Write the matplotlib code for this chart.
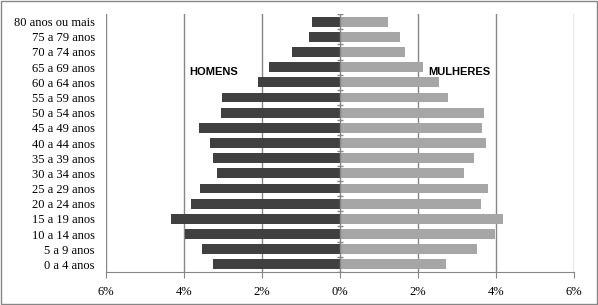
import numpy as np
import matplotlib
matplotlib.use("Agg")
import matplotlib.pyplot as plt
from matplotlib.patches import Rectangle

# age groups, top to bottom as in the picture
age_groups = [
    "80 anos ou mais", "75 a 79 anos", "70 a 74 anos", "65 a 69 anos",
    "60 a 64 anos", "55 a 59 anos", "50 a 54 anos", "45 a 49 anos",
    "40 a 44 anos", "35 a 39 anos", "30 a 34 anos", "25 a 29 anos",
    "20 a 24 anos", "15 a 19 anos", "10 a 14 anos", "5 a 9 anos",
    "0 a 4 anos",
]
# share of population (%), same order
homens = [0.72, 0.80, 1.23, 1.82, 2.10, 3.03, 3.05, 3.62, 3.33, 3.26,
          3.15, 3.59, 3.82, 4.33, 3.97, 3.54, 3.26]
mulheres = [1.23, 1.54, 1.66, 2.13, 2.54, 2.77, 3.69, 3.64, 3.74, 3.44,
            3.18, 3.79, 3.62, 4.18, 3.97, 3.51, 2.72]
xticks = [-6, -4, -2, 0, 2, 4, 6]
xtick_labels = ["6%", "4%", "2%", "0%", "2%", "4%", "6%"]

DARK = "#404040"
LIGHT = "#a6a6a6"
GRID = "#868686"

fig = plt.figure(figsize=(5.98, 3.05), dpi=100)
ax = fig.add_axes([106 / 598, 1 - 272 / 305, 468 / 598, 258 / 305])

y = np.arange(len(age_groups))[::-1]
ax.barh(y, -np.array(homens), height=0.65, color=DARK, zorder=3)
ax.barh(y, mulheres, height=0.65, color=LIGHT, zorder=3)

ax.set_xlim(-6, 6)
ax.set_ylim(-0.5, len(age_groups) - 0.5)

for xv in xticks:
    if xv != 0:
        ax.axvline(xv, color=GRID, lw=1, zorder=1)
ax.axvline(0, color=GRID, lw=1, zorder=4)
# small category ticks on the zero axis
ax.hlines(np.arange(-0.5, len(age_groups)), -0.07, 0.07, color=GRID, lw=1, zorder=4)

ax.set_xticks(xticks)
ax.set_xticklabels(xtick_labels, family="Liberation Serif", fontsize=9)
ax.set_yticks(y)
ax.set_yticklabels(age_groups, family="Liberation Serif", fontsize=9)
ax.tick_params(axis="y", length=0, pad=8)
ax.tick_params(axis="x", length=4, color=GRID, pad=6)

for s in ["top", "right", "left"]:
    ax.spines[s].set_visible(False)
ax.spines["bottom"].set_color(GRID)

ax.text(-3.23, 12.65, "HOMENS", family="Liberation Sans", fontweight="bold",
        fontsize=8, ha="center", va="center")
ax.text(3.05, 12.65, "MULHERES", family="Liberation Sans", fontweight="bold",
        fontsize=8, ha="center", va="center")

fig.patches.append(Rectangle((0.002, 0.003), 0.996, 0.994, transform=fig.transFigure,
                             fill=False, edgecolor=GRID, lw=1))

fig.savefig("out.png", dpi=100)
